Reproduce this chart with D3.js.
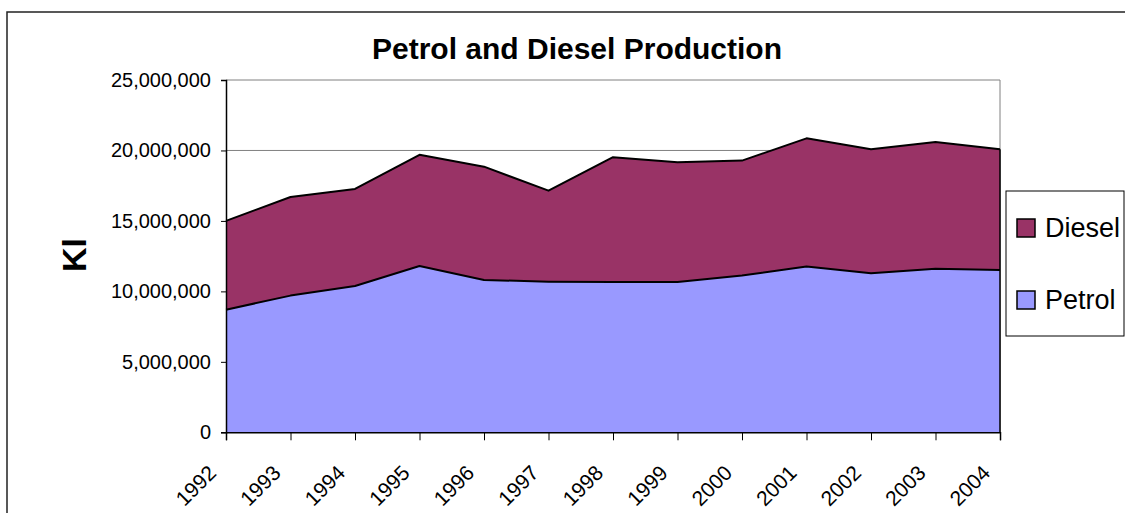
<!DOCTYPE html>
<html>
<head>
<meta charset="utf-8">
<script src="https://cdn.jsdelivr.net/npm/d3@7"></script>
<style>
  body { margin: 0; background: #fff; }
  svg { display: block; font-family: "Liberation Sans", Arial, sans-serif; }
</style>
</head>
<body>
<div id="chart"></div>
<script>
// data
var years = [1992, 1993, 1994, 1995, 1996, 1997, 1998, 1999, 2000, 2001, 2002, 2003, 2004];
var petrol = [8700000, 9700000, 10380000, 11800000, 10810000, 10690000, 10670000, 10670000, 11120000, 11760000, 11280000, 11610000, 11520000];
var diesel = [6300000, 7000000, 6890000, 7890000, 8040000, 6460000, 8850000, 8490000, 8160000, 9100000, 8800000, 8990000, 8560000];
var yTicks = [0, 5000000, 10000000, 15000000, 20000000, 25000000];
var seriesNames = ['Petrol', 'Diesel'];
var colors = {Petrol: '#9999ff', Diesel: '#993366'};

(function() {
    var width = 1125, height = 513;
    var plotLeft = 226, plotRight = 1000, plotTop = 80, plotBottom = 432.3;
    var font = '"Liberation Sans", Arial, sans-serif';

    var svg = d3.select('#chart').append('svg')
        .attr('width', width).attr('height', height);

    // outer chart border
    svg.append('rect')
        .attr('x', 7).attr('y', 12)
        .attr('width', 1130).attr('height', 520)
        .attr('fill', 'none').attr('stroke', '#222').attr('stroke-width', 1.5);

    var x = d3.scaleLinear().domain([years[0], years[years.length - 1]]).range([plotLeft, plotRight]);
    var y = d3.scaleLinear().domain([0, 25000000]).range([plotBottom, plotTop]);

    var table = years.map(function(yr, i) {
        return {year: yr, Petrol: petrol[i], Diesel: diesel[i]};
    });
    var stacked = d3.stack().keys(seriesNames)(table);

    // gridlines + plot border
    svg.append('g').selectAll('line').data(yTicks.slice(1)).enter().append('line')
        .attr('x1', plotLeft).attr('x2', plotRight)
        .attr('y1', function(d) { return y(d); }).attr('y2', function(d) { return y(d); })
        .attr('stroke', '#808080').attr('stroke-width', 1);
    svg.append('line')
        .attr('x1', plotRight).attr('x2', plotRight).attr('y1', plotTop).attr('y2', plotBottom)
        .attr('stroke', '#808080').attr('stroke-width', 1);

    var area = d3.area()
        .x(function(d) { return x(d.data.year); })
        .y0(function(d) { return y(d[0]); })
        .y1(function(d) { return y(d[1]); });
    var topLine = d3.line()
        .x(function(d) { return x(d.data.year); })
        .y(function(d) { return y(d[1]); });

    svg.append('g').selectAll('path.area').data(stacked).enter().append('path')
        .attr('class', 'area')
        .attr('d', area)
        .attr('fill', function(d) { return colors[d.key]; });

    svg.append('g').selectAll('path.edge').data(stacked).enter().append('path')
        .attr('class', 'edge')
        .attr('d', topLine)
        .attr('fill', 'none')
        .attr('stroke', '#000')
        .attr('stroke-width', 2)
        .attr('stroke-linejoin', 'round');

    // right edge of the areas
    var last = years.length - 1;
    svg.append('line')
        .attr('x1', plotRight).attr('x2', plotRight)
        .attr('y1', plotBottom).attr('y2', y(petrol[last] + diesel[last]))
        .attr('stroke', '#000').attr('stroke-width', 1.5);

    // y axis
    var yAxis = d3.axisLeft(y).tickValues(yTicks).tickSize(5).tickPadding(10)
        .tickFormat(d3.format(','));
    var gy = svg.append('g').attr('transform', 'translate(' + plotLeft + ',0)').call(yAxis);
    gy.attr('font-size', 20).attr('font-family', font);
    gy.select('.domain').attr('stroke', '#000').attr('stroke-width', 1.5);
    gy.selectAll('.tick line').attr('stroke', '#000');
    gy.selectAll('.tick text').attr('fill', '#000');

    // x axis
    var xAxis = d3.axisBottom(x).tickValues(years).tickSize(8).tickFormat(d3.format('d'));
    var gx = svg.append('g').attr('transform', 'translate(0,' + plotBottom + ')').call(xAxis);
    gx.attr('font-size', 21).attr('font-family', font);
    gx.select('.domain').attr('stroke', '#000').attr('stroke-width', 1.5);
    gx.selectAll('.tick line').attr('stroke', '#000');
    gx.selectAll('.tick text')
        .attr('fill', '#000')
        .attr('text-anchor', 'end')
        .attr('y', 0).attr('dy', 0)
        .attr('transform', 'translate(-9,42) rotate(-45)');

    // title
    svg.append('text')
        .attr('x', 577).attr('y', 59)
        .attr('text-anchor', 'middle')
        .attr('font-size', 30).attr('font-weight', 'bold')
        .text('Petrol and Diesel Production');

    // y axis title
    svg.append('text')
        .attr('transform', 'translate(86,255) rotate(-90)')
        .attr('text-anchor', 'middle')
        .attr('font-size', 34).attr('font-weight', 'bold')
        .text('Kl');

    // legend
    var legend = svg.append('g');
    legend.append('rect')
        .attr('x', 1006).attr('y', 191).attr('width', 118).attr('height', 145)
        .attr('fill', '#fff').attr('stroke', '#000').attr('stroke-width', 1);
    var items = legend.selectAll('g.item').data(['Diesel', 'Petrol']).enter().append('g')
        .attr('class', 'item')
        .attr('transform', function(d, i) { return 'translate(1017,' + (219 + i * 72) + ')'; });
    items.append('rect')
        .attr('width', 18).attr('height', 18)
        .attr('fill', function(d) { return colors[d]; })
        .attr('stroke', '#000').attr('stroke-width', 1.5);
    items.append('text')
        .attr('x', 28).attr('y', 18)
        .attr('font-size', 27)
        .text(function(d) { return d; });
})();
</script>
</body>
</html>
